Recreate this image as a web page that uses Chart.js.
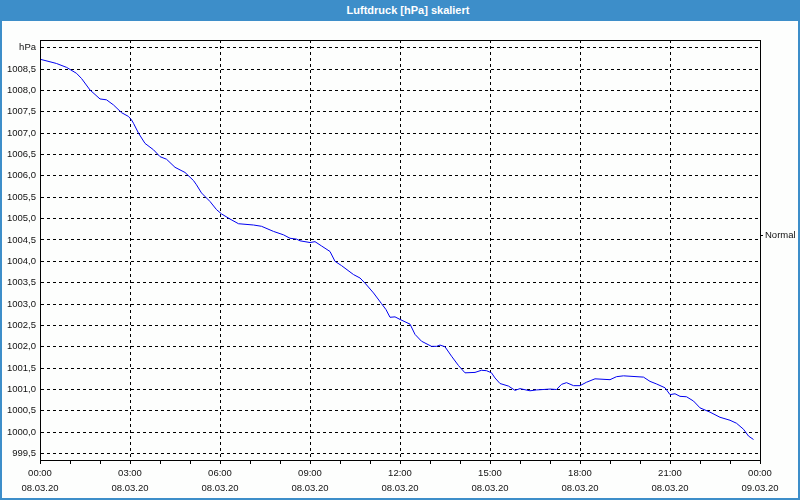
<!DOCTYPE html>
<html lang="de">
<head>
  <meta charset="UTF-8" />
  <title>Luftdruck [hPa] skaliert</title>
  <script src="https://cdn.jsdelivr.net/npm/chart.js"></script>
  <style>
    html, body {
      margin: 0;
      padding: 0;
      background: #fff;
    }

    .window {
      position: relative;
      width: 800px;
      height: 500px;
      box-sizing: border-box;
      border: 2px solid #3d8ec9;
      border-top: none;
      background: #fdfefd;
      overflow: hidden;
    }

    .title-bar {
      position: absolute;
      left: 0;
      top: 0;
      width: 800px;
      height: 21px;
      line-height: 20px;
      background: #3d8ec9;
      color: #fff;
      font-family: 'Liberation Sans', sans-serif;
      font-weight: bold;
      font-size: 11px;
      text-align: center;
      padding-left: 12px;
      box-sizing: border-box;
    }

    #chart {
      position: absolute;
      left: -2px;
      top: 0;
    }
  </style>
</head>
<body>

  <div class="window">
    <div class="title-bar">Luftdruck [hPa] skaliert</div>
    <canvas id="chart" width="800" height="500"></canvas>
  </div>

  <script>
    // minutes since 08.03.20 00:00
    const minutes = [
      0, 20, 33, 53, 73, 83, 100, 120, 133, 147, 163, 177, 183, 187, 197,
      210, 227, 240, 253, 270, 290, 307, 313, 323, 340, 353, 363, 380, 397,
      427, 443, 467, 487, 500, 513, 520, 540, 550, 563, 580, 590, 603, 627,
      640, 650, 667, 683, 692, 700, 710, 720, 740, 750, 763, 783, 793, 800,
      810, 823, 837, 850, 870, 883, 893, 903, 910, 920, 937, 950, 960, 980,
      993, 1020, 1033, 1043, 1053, 1067, 1080, 1093, 1110, 1140, 1153, 1167,
      1207, 1220, 1233, 1250, 1260, 1270, 1280, 1293, 1307, 1320, 1340, 1360,
      1380, 1393, 1407, 1417, 1427
    ];

    const pressure = [
      1008.73, 1008.67, 1008.63, 1008.54, 1008.40, 1008.28, 1008.01, 1007.80,
      1007.78, 1007.66, 1007.48, 1007.39, 1007.31, 1007.23, 1007.00,
      1006.76, 1006.61, 1006.45, 1006.39, 1006.20, 1006.08, 1005.89, 1005.79,
      1005.60, 1005.40, 1005.21, 1005.11, 1004.99, 1004.88,
      1004.85, 1004.82, 1004.70, 1004.62, 1004.54, 1004.52, 1004.48, 1004.44,
      1004.46, 1004.36, 1004.23, 1004.00, 1003.90, 1003.69,
      1003.61, 1003.49, 1003.26, 1003.01, 1002.87, 1002.69, 1002.70, 1002.64,
      1002.53, 1002.29, 1002.13, 1002.01, 1002.01, 1002.04,
      1002.00, 1001.78, 1001.56, 1001.39, 1001.40, 1001.45, 1001.44, 1001.39,
      1001.27, 1001.14, 1001.08, 1000.98, 1001.02, 1000.97,
      1000.99, 1001.01, 1001.00, 1001.12, 1001.16, 1001.09, 1001.09, 1001.17,
      1001.25, 1001.23, 1001.30, 1001.32,
      1001.29, 1001.19, 1001.13, 1001.04, 1000.88, 1000.90, 1000.84, 1000.83,
      1000.73, 1000.57, 1000.47, 1000.35,
      1000.28, 1000.21, 1000.07, 999.91, 999.83
    ];

    const yTicks = [
      999.5, 1000.0, 1000.5, 1001.0, 1001.5, 1002.0, 1002.5, 1003.0, 1003.5,
      1004.0, 1004.5, 1005.0, 1005.5, 1006.0, 1006.5, 1007.0, 1007.5, 1008.0,
      1008.5, 1009.0
    ];
    const yUnit = 'hPa';
    const normalLevel = 1004.6;
    const dates = ['08.03.20', '09.03.20'];

    const yMin = 999.35;
    const yMax = 1009.18;
    const font = { family: "'Liberation Sans', sans-serif", size: 9.5 };
    const textColor = '#111';

    // solid frame around the plot area
    const framePlugin = {
      id: 'frame',
      afterDraw(chart) {
        const { ctx, chartArea: a } = chart;
        ctx.save();
        ctx.strokeStyle = '#000';
        ctx.lineWidth = 1;
        ctx.strokeRect(Math.round(a.left) + 0.5, Math.round(a.top) + 0.5,
          Math.round(a.right - a.left), Math.round(a.bottom - a.top));
        ctx.restore();
      }
    };

    const ctx = document.getElementById('chart').getContext('2d');
    const chart = new Chart(ctx, {
      type: 'line',
      data: {
        datasets: [{
          label: 'Luftdruck',
          data: minutes.map((m, i) => ({ x: m, y: pressure[i] })),
          borderColor: '#0000f0',
          borderWidth: 1,
          pointRadius: 0,
          tension: 0,
          fill: false
        }]
      },
      options: {
        responsive: false,
        animation: false,
        layout: { padding: { top: 40, left: 2, right: 0, bottom: 0 } },
        plugins: {
          legend: { display: false },
          title: { display: false },
          tooltip: { enabled: false }
        },
        scales: {
          x: {
            type: 'linear',
            min: 0,
            max: 1440,
            afterFit(scale) { scale.height = 40; },
            ticks: {
              stepSize: 60,
              autoSkip: false,
              maxRotation: 0,
              padding: 2,
              color: textColor,
              font: { ...font, lineHeight: 1.6 },
              callback(v) {
                if (v % 180 !== 0) return '';
                const h = (v / 60) % 24;
                const day = v < 1440 ? dates[0] : dates[1];
                return [String(h).padStart(2, '0') + ':00', day];
              }
            },
            grid: {
              color: ctx => (ctx.tick && ctx.tick.value % 180 === 0) ? '#000' : 'rgba(0,0,0,0)',
              tickColor: '#000',
              tickLength: 4,
              tickBorderDash: [],
              lineWidth: 1
            },
            border: { display: true, color: '#000', width: 1, dash: [3, 3] }
          },
          y: {
            type: 'linear',
            position: 'left',
            min: yMin,
            max: yMax,
            afterFit(scale) { scale.width = 38; },
            afterBuildTicks(scale) {
              scale.ticks = yTicks.map(v => ({ value: v }));
            },
            ticks: {
              padding: 4,
              color: textColor,
              font: font,
              callback(v) {
                if (Math.abs(v - yTicks[yTicks.length - 1]) < 1e-6) return yUnit;
                return v.toFixed(1).replace('.', ',');
              }
            },
            grid: {
              color: '#000',
              drawTicks: false,
              lineWidth: 1
            },
            border: { display: true, color: '#000', width: 1, dash: [3, 3] }
          },
          normal: {
            type: 'linear',
            position: 'right',
            min: yMin,
            max: yMax,
            afterFit(scale) { scale.width = 40; },
            afterBuildTicks(scale) {
              scale.ticks = [{ value: normalLevel }];
            },
            ticks: {
              padding: 2,
              color: textColor,
              font: font,
              callback() { return 'Normal'; }
            },
            grid: {
              drawOnChartArea: false,
              drawTicks: true,
              tickLength: 3,
              tickColor: '#000',
              color: '#000'
            },
            border: { display: true, color: '#000', width: 1 }
          }
        }
      },
      plugins: [framePlugin]
    });
  </script>

</body>
</html>
